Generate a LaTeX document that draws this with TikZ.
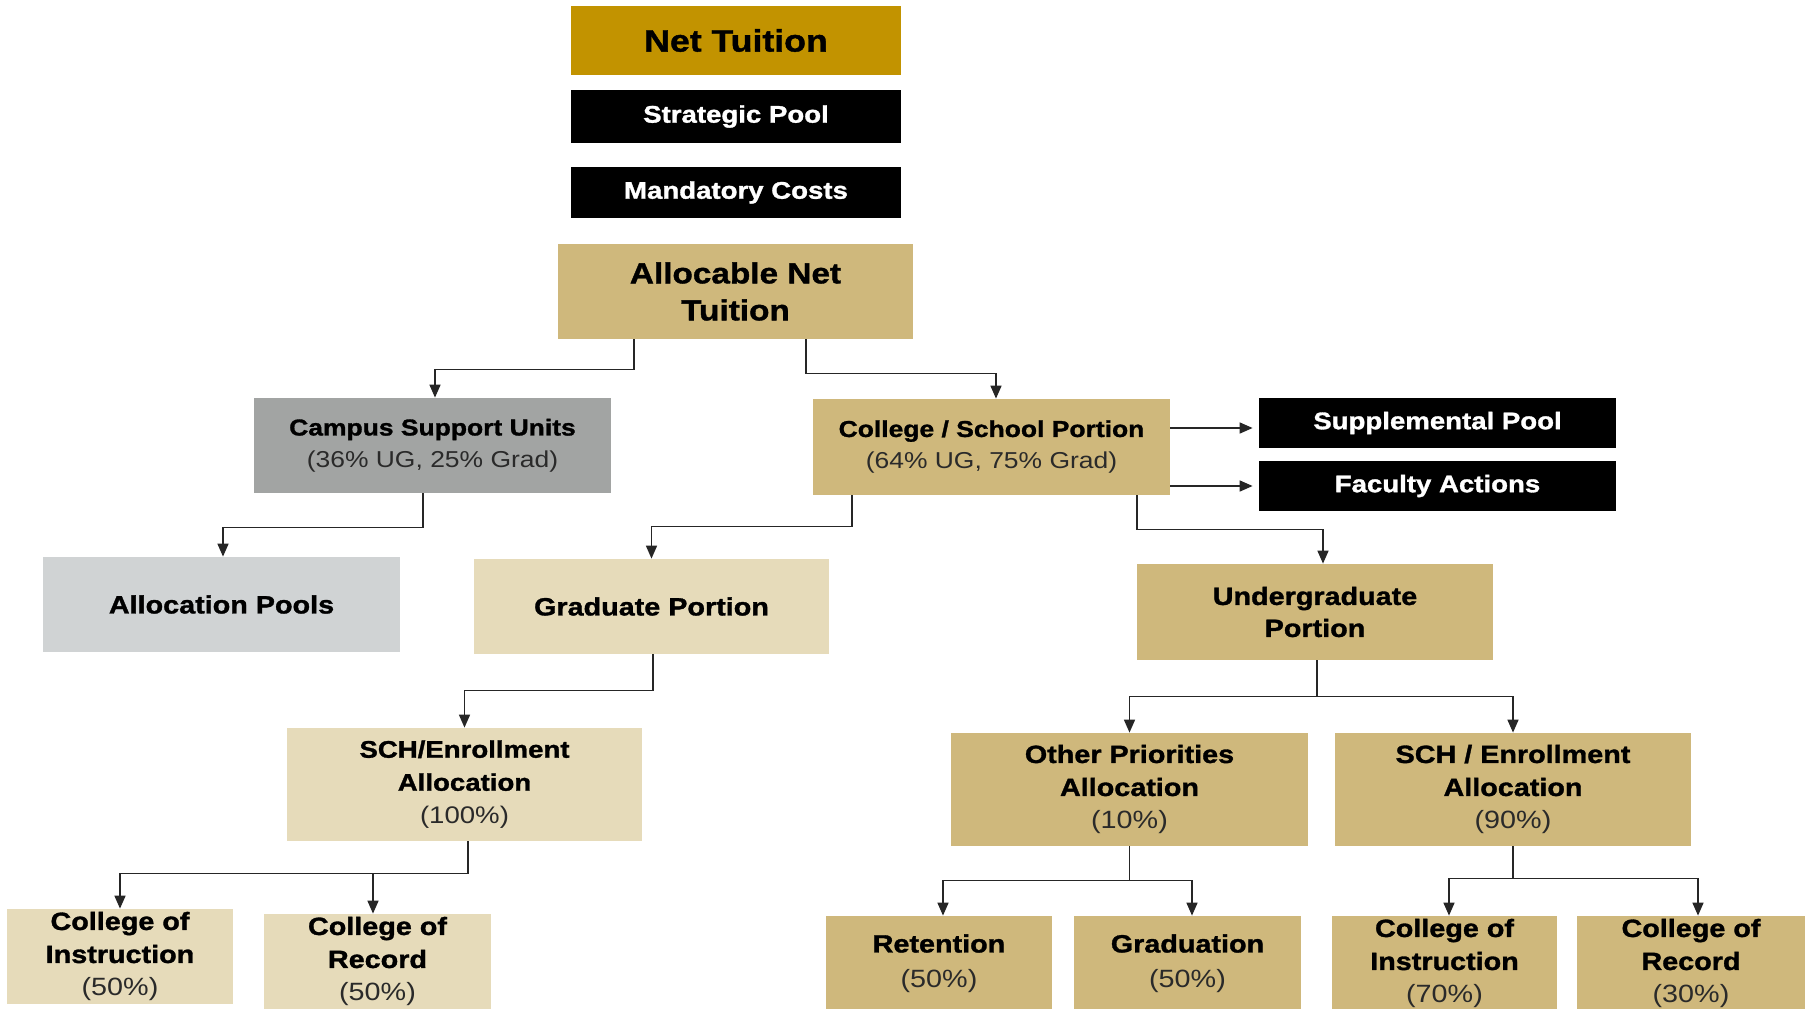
\documentclass[tikz,border=0pt]{standalone}
\usepackage{fontspec}
\setmainfont{Liberation Sans}[FakeStretch=1.15, BoldFeatures={FakeBold=1.3}]
\usetikzlibrary{arrows.meta}
\definecolor{netgold}{HTML}{C29300}
\definecolor{cugold}{HTML}{CFB87C}
\definecolor{lighttan}{HTML}{E6DBBA}
\definecolor{midgray}{HTML}{A2A4A3}
\definecolor{lightgray}{HTML}{D0D3D4}
\definecolor{pcttext}{HTML}{2A2A2A}
\newcommand\fsz[2]{\fontsize{#1pt}{#2pt}\selectfont}
\newcommand\pct[1]{{\mdseries\color{pcttext}#1}}
\tikzset{
  base/.style={rectangle, inner sep=0pt, align=center, draw=none, text=black},
  wh/.style n args={2}{minimum width=#1*0.5pt, minimum height=#2*0.5pt},
  goldbox/.style={base, fill=cugold},
  tanbox/.style={base, fill=lighttan},
  darkbox/.style={base, fill=black, text=white, font=\fsz{12}{14}\bfseries},
  conn/.style={draw=black!85, line width=0.8pt, -{Triangle[width=5.5pt,length=6.5pt]}},
}
\begin{document}
\begin{tikzpicture}[x=0.5pt,y=-0.5pt]
\useasboundingbox (0,0) rectangle (1810,1008);
\clip (0,0) rectangle (1810,1008);
\fill[white] (0,0) rectangle (1810,1008);

% top stack
\node[base, fill=netgold, wh={330}{69}, font=\fsz{15.5}{18}\bfseries] (net) at (736,40.5) {Net Tuition};
\node[darkbox, wh={330}{53}] (strat) at (736,116.5) {Strategic Pool};
\node[darkbox, wh={330}{51}] (mand) at (736,192.5) {Mandatory Costs};
\node[goldbox, wh={355}{95}, font=\fsz{14.5}{18.5}\bfseries] (alloc) at (735.5,291.5) {Allocable Net\\Tuition};

% second level
\node[base, fill=midgray, wh={357}{95}, font=\fsz{11.5}{16}\bfseries] (campus) at (432.5,445.5) {Campus Support Units\\\pct{(36\% UG, 25\% Grad)}};
\node[goldbox, wh={357}{96}, font=\fsz{11.5}{16}\bfseries] (college) at (991.5,447) {College / School Portion\\\pct{(64\% UG, 75\% Grad)}};
\node[darkbox, wh={357}{50}] (supp) at (1437.5,423) {Supplemental Pool};
\node[darkbox, wh={357}{50}] (fac) at (1437.5,486) {Faculty Actions};

% third level
\node[base, fill=lightgray, wh={357}{95}, font=\fsz{12.5}{16}\bfseries] (pools) at (221.5,604.5) {Allocation Pools};
\node[tanbox, wh={355}{95}, font=\fsz{12.5}{16}\bfseries] (grad) at (651.5,606.5) {Graduate Portion};
\node[goldbox, wh={356}{96}, font=\fsz{12.5}{16}\bfseries] (ug) at (1315,612) {Undergraduate\\Portion};

% fourth level
\node[tanbox, wh={355}{113}, font=\fsz{12}{16.5}\bfseries] (schg) at (464.5,784.5) {SCH/Enrollment\\Allocation\\\pct{(100\%)}};
\node[goldbox, wh={357}{113}, font=\fsz{12.5}{16.5}\bfseries] (other) at (1129.5,789.5) {Other Priorities\\Allocation\\\pct{(10\%)}};
\node[goldbox, wh={356}{113}, font=\fsz{12.5}{16.5}\bfseries] (schu) at (1513,789.5) {SCH / Enrollment\\Allocation\\\pct{(90\%)}};

% bottom level
\node[tanbox, wh={226}{95}, font=\fsz{12.5}{16.5}\bfseries] (coi1) at (120,956.5) {College of\\Instruction\\\pct{(50\%)}};
\node[tanbox, wh={227}{95}, font=\fsz{12.5}{16.5}\bfseries] (cor1) at (377.5,961.5) {College of\\Record\\\pct{(50\%)}};
\node[goldbox, wh={226}{95}, font=\fsz{12.5}{17.5}\bfseries] (ret) at (939,963.5) {Retention\\\pct{(50\%)}};
\node[goldbox, wh={227}{95}, font=\fsz{12.5}{17.5}\bfseries] (grd) at (1187.5,963.5) {Graduation\\\pct{(50\%)}};
\node[goldbox, wh={225}{95}, font=\fsz{12.5}{16.5}\bfseries] (coi2) at (1444.5,963.5) {College of\\Instruction\\\pct{(70\%)}};
\node[goldbox, wh={228}{95}, font=\fsz{12.5}{16.5}\bfseries] (cor2) at (1691,963.5) {College of\\Record\\\pct{(30\%)}};

% connectors
\draw[conn] ([xshift=-50.75pt]alloc.south) -- ++(0,30) -| ([xshift=1.25pt]campus.north);
\draw[conn] ([xshift=35.25pt]alloc.south) -- ++(0,34) -| ([xshift=2.25pt]college.north);
\draw[conn] ([yshift=9.5pt]college.east) -- ([yshift=-2.5pt,xshift=-3pt]supp.west);
\draw[conn] ([yshift=-19.5pt]college.east) -- ([xshift=-3pt]fac.west);
\draw[conn] ([xshift=-4.75pt]campus.south) -- ++(0,34) -| ([xshift=0.75pt]pools.north);
\draw[conn] ([xshift=-69.75pt]college.south) -- ++(0,31) -| (grad.north);
\draw[conn] ([xshift=72.75pt]college.south) -- ++(0,34) -| ([xshift=4pt]ug.north);
\draw[conn] ([xshift=0.75pt]grad.south) -- ++(0,36) -| (schg.north);
\draw[conn] ([xshift=1.75pt]schg.south) -- ++(0,32) -| (coi1.north);
\draw[conn] ([xshift=1.75pt]schg.south) -- ++(0,32) -| ([xshift=-2.25pt]cor1.north);
\draw[conn] ([xshift=1pt]ug.south) -- ++(0,36) -| (other.north);
\draw[conn] ([xshift=1pt]ug.south) -- ++(0,36) -| (schu.north);
\draw[conn] (other.south) -- ++(0,34) -| ([xshift=2pt]ret.north);
\draw[conn] (other.south) -- ++(0,34) -| ([xshift=2.25pt]grd.north);
\draw[conn] (schu.south) -- ++(0,32) -| ([xshift=2.25pt]coi2.north);
\draw[conn] (schu.south) -- ++(0,32) -| ([xshift=3.5pt]cor2.north);
\end{tikzpicture}
\end{document}
